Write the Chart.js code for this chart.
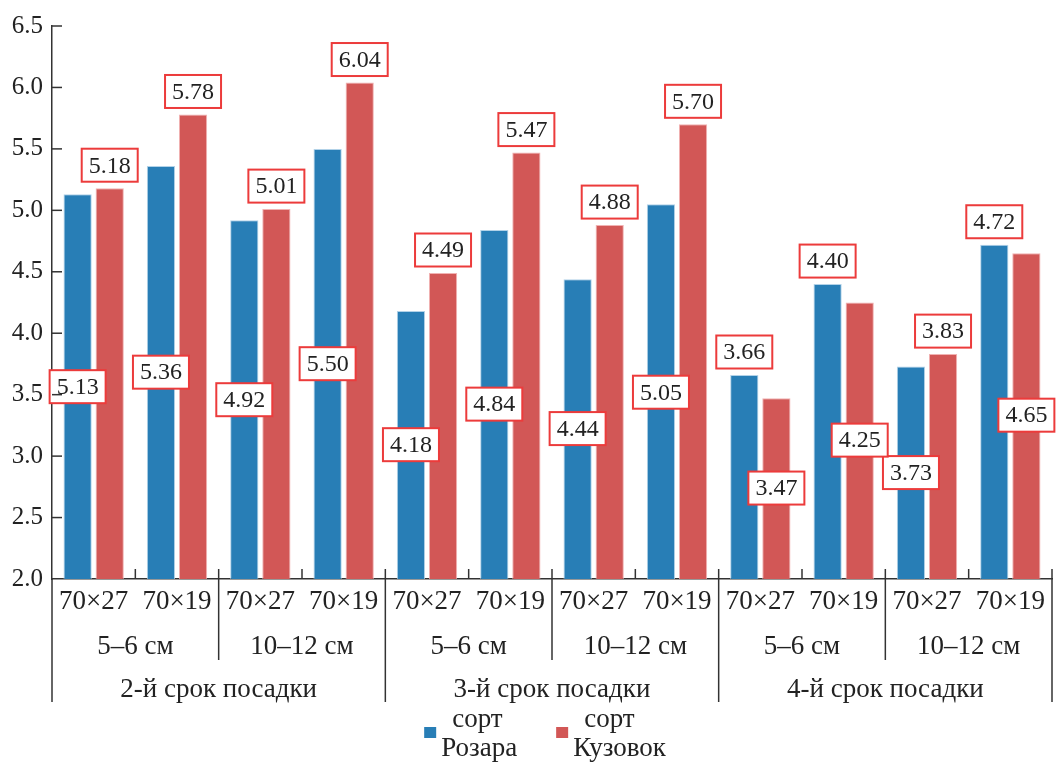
<!DOCTYPE html>
<html>
<head>
<meta charset="utf-8">
<script src="https://cdn.jsdelivr.net/npm/chart.js@4.4.1/dist/chart.umd.min.js"></script>
<style>
  html, body { margin: 0; padding: 0; background: #fff; }
  #wrap { width: 1060px; height: 763px; position: relative; }
</style>
</head>
<body>
<div id="wrap"><canvas id="c"></canvas></div>
<script>
// ---- data ----
const categories = ['70×27', '70×19', '70×27', '70×19', '70×27', '70×19',
                    '70×27', '70×19', '70×27', '70×19', '70×27', '70×19'];
const sizeGroups = ['5–6 см', '10–12 см', '5–6 см', '10–12 см', '5–6 см', '10–12 см'];
const periodGroups = ['2-й срок посадки', '3-й срок посадки', '4-й срок посадки'];
const seriesNames = [['сорт', 'Розара'], ['сорт', 'Кузовок']];
const rozara  = [5.13, 5.36, 4.92, 5.50, 4.18, 4.84, 4.44, 5.05, 3.66, 4.40, 3.73, 4.72];
const kuzovok = [5.18, 5.78, 5.01, 6.04, 4.49, 5.47, 4.88, 5.70, 3.47, 4.25, 3.83, 4.65];
const yMin = 2.0, yMax = 6.5, yStep = 0.5;

// label anchors (value-axis position of label centre; null = just above the bar)
const rozaraLabelAt  = [3.565, 3.683, 3.459, 3.752, 3.093, 3.423, 3.224, 3.52, null, null, 2.866, null];
const kuzovokLabelAt = [null, null, null, null, null, null, null, null, 2.74, 3.13, null, 3.333];

const FONT = '"Liberation Serif", "Times New Roman", serif';
const TXT = '#222222';
const AX = '#333333';

const decorPlugin = {
  id: 'decor',
  afterDatasetsDraw(chart) {
    const ctx = chart.ctx;
    const ys = chart.scales.y;
    ctx.save();
    chart.data.datasets.forEach((ds, di) => {
      const meta = chart.getDatasetMeta(di);
      meta.data.forEach((bar, i) => {
        const v = ds.data[i];
        const at = ds.labelAt[i];
        const cy = at == null ? bar.y - 23 : ys.getPixelForValue(at);
        const cx = bar.x;
        const text = v.toFixed(2);
        ctx.font = '24px ' + FONT;
        const tw = ctx.measureText(text).width;
        const w = Math.max(52, tw + 14), h = 33;
        ctx.fillStyle = '#ffffff';
        ctx.fillRect(cx - w / 2, cy - h / 2, w, h);
        ctx.strokeStyle = '#ec3b3b';
        ctx.lineWidth = 2;
        ctx.strokeRect(cx - w / 2, cy - h / 2, w, h);
        ctx.fillStyle = TXT;
        ctx.textAlign = 'center';
        ctx.textBaseline = 'middle';
        ctx.fillText(text, cx, cy + 1);
      });
    });
    ctx.restore();
  },
  afterDraw(chart) {
    const ctx = chart.ctx;
    const xs = chart.scales.x, ys = chart.scales.y;
    const a = chart.chartArea;
    const L = a.left, R = a.right, B = a.bottom;
    ctx.save();
    ctx.strokeStyle = AX;
    ctx.lineWidth = 1.5;
    const line = (x1, y1, x2, y2) => { ctx.beginPath(); ctx.moveTo(x1, y1); ctx.lineTo(x2, y2); ctx.stroke(); };
    // inward y ticks
    ys.ticks.forEach(t => {
      if (t.value <= yMin) return;
      const py = ys.getPixelForValue(t.value);
      line(L, py, L + 10, py);
    });
    // x boundaries
    const n = categories.length;
    const bx = i => (xs.getPixelForValue(i) + xs.getPixelForValue(i + 1)) / 2;
    for (let i = 0; i < n - 1; i++) {
      const px = bx(i);
      if ((i + 1) % 4 === 0) line(px, B - 10, px, B + 123);
      else if ((i + 1) % 2 === 0) line(px, B - 10, px, B + 81);
      else line(px, B, px, B - 10);
    }
    line(L, B, L, B + 123);
    line(R, B - 10, R, B + 123);
    // group labels
    ctx.fillStyle = TXT;
    ctx.font = '27px ' + FONT;
    ctx.textAlign = 'center';
    ctx.textBaseline = 'middle';
    sizeGroups.forEach((g, k) => {
      const cx = (xs.getPixelForValue(2 * k) + xs.getPixelForValue(2 * k + 1)) / 2;
      ctx.fillText(g, cx, B + 68);
    });
    periodGroups.forEach((g, k) => {
      const cx = (xs.getPixelForValue(4 * k + 1) + xs.getPixelForValue(4 * k + 2)) / 2;
      ctx.fillText(g, cx, B + 111);
    });
    // legend
    const items = chart.data.datasets.map((ds, di) => {
      const lines = seriesNames[di];
      const tw = Math.max(ctx.measureText(lines[0]).width + 11, ctx.measureText(lines[1]).width);
      return { color: ds.backgroundColor, lines, w: 12 + 5 + tw };
    });
    const gap = 39;
    const total = items.reduce((s, it) => s + it.w, 0) + gap * (items.length - 1);
    let x0 = (L + R) / 2 - 7 - total / 2;
    ctx.textAlign = 'left';
    items.forEach(it => {
      ctx.fillStyle = it.color;
      ctx.fillRect(x0, B + 148, 12, 11);
      ctx.fillStyle = TXT;
      ctx.fillText(it.lines[0], x0 + 17 + 11, B + 141);
      ctx.fillText(it.lines[1], x0 + 17, B + 170);
      x0 += it.w + gap;
    });
    ctx.restore();
  }
};

function build() {
  new Chart(document.getElementById('c'), {
    type: 'bar',
    data: {
      labels: categories,
      datasets: [
        { label: seriesNames[0].join(' '), data: rozara, labelAt: rozaraLabelAt,
          backgroundColor: '#287eb6', borderColor: 'rgba(170,205,230,0.9)', borderWidth: 1,
          categoryPercentage: 0.77, barPercentage: 0.88 },
        { label: seriesNames[1].join(' '), data: kuzovok, labelAt: kuzovokLabelAt,
          backgroundColor: '#d25756', borderColor: 'rgba(240,170,170,0.9)', borderWidth: 1,
          categoryPercentage: 0.77, barPercentage: 0.88 }
      ]
    },
    options: {
      responsive: true,
      maintainAspectRatio: false,
      animation: false,
      devicePixelRatio: 1,
      layout: { padding: { top: 26, right: 8, left: 0, bottom: 0 } },
      plugins: { legend: { display: false }, tooltip: { enabled: false } },
      scales: {
        x: {
          offset: true,
          grid: { display: false, drawTicks: false },
          border: { display: true, color: AX, width: 1.5 },
          ticks: { color: TXT, font: { family: FONT, size: 27 }, padding: 7, maxRotation: 0, autoSkip: false },
          afterFit(s) { s.height = 184; }
        },
        y: {
          min: yMin, max: yMax,
          grid: { display: false, drawTicks: false },
          border: { display: true, color: AX, width: 1.5 },
          ticks: { stepSize: yStep, color: TXT, font: { family: FONT, size: 25 }, padding: 9,
                   callback: v => Number(v).toFixed(1) },
          afterFit(s) { s.width = 52; }
        }
      }
    },
    plugins: [decorPlugin]
  });
}

if (document.fonts && document.fonts.load) {
  Promise.all([
    document.fonts.load('24px "Liberation Serif"'),
    document.fonts.load('27px "Liberation Serif"', 'срок')
  ]).then(build, build);
} else {
  build();
}
</script>
</body>
</html>
